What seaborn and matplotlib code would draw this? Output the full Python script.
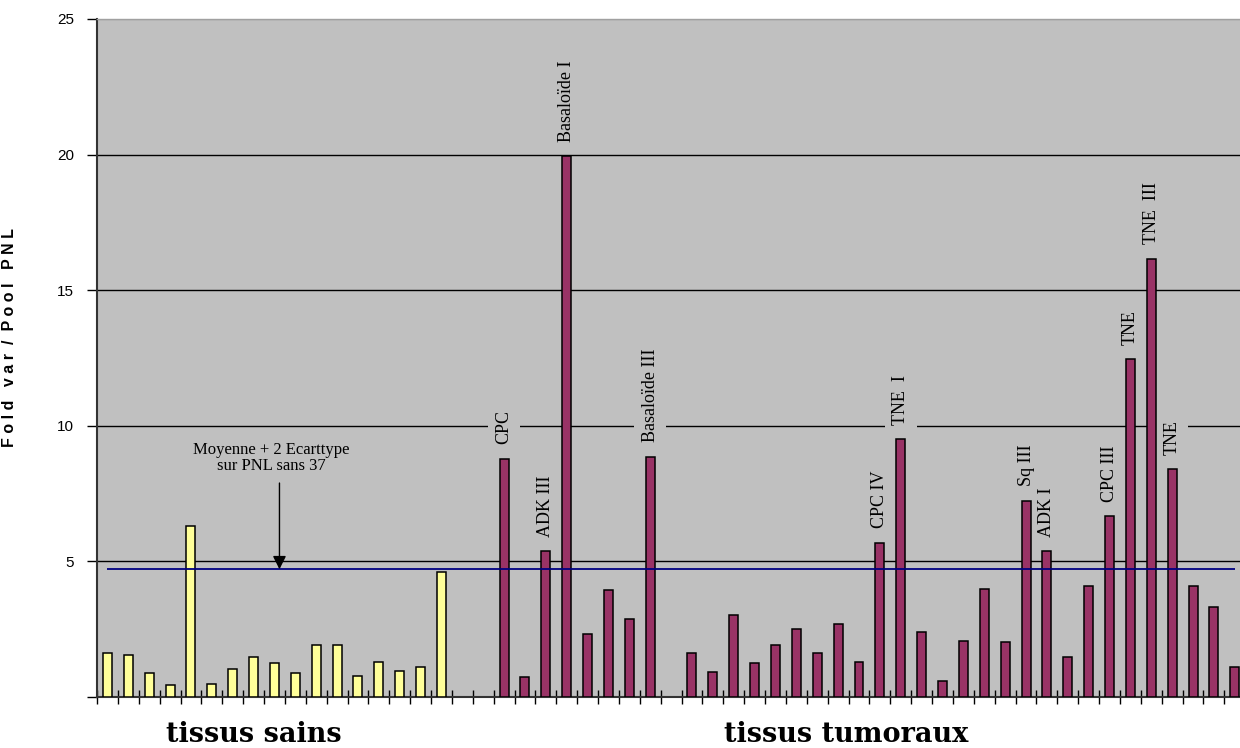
import numpy as np
import pandas as pd
import matplotlib
matplotlib.use("Agg")
import matplotlib.pyplot as plt
import seaborn as sns

# ---------------- data ----------------
tissus_sains = [1.61, 1.56, 0.88, 0.43, 6.32, 0.48, 1.04, 1.46, 1.25, 0.88,
                1.92, 1.92, 0.79, 1.30, 0.95, 1.10, 4.61]

tissus_tumoraux = [None, None, 8.79, 0.74, 5.38, 19.93, 2.34, 3.95, 2.86, 8.85,
                   None, 1.61, 0.93, 3.01, 1.25, 1.92, 2.49, 1.61, 2.70, 1.30,
                   5.69, 9.51, 2.38, 0.58, 2.08, 3.99, 2.03, 7.24, 5.38, 1.46,
                   4.09, 6.67, 12.46, 16.15, 8.39, 4.09, 3.32, 1.10]

etiquettes_tumeurs = ["", "", "CPC", "", "ADK III", "Basaloïde I", "", "", "", "Basaloïde III",
                      "", "", "", "", "", "", "", "", "", "",
                      "CPC IV", "TNE  I", "", "", "", "", "", "Sq III", "ADK I", "",
                      "", "CPC III", "TNE", "TNE  III", "TNE", "", "", ""]

seuil = 4.71  # Moyenne + 2 Ecarttype sur PNL sans 37
groupes = ["tissus sains", "tissus tumoraux"]
yticks_vals = [0, 5, 10, 15, 20, 25]
yticks_labels = ["", "5", "10", "15", "20", "25"]
ylabel_text = "F o l d   v a r  /  P o o l   P N L"
annotation_text = "Moyenne + 2 Ecarttype\nsur PNL sans 37"

# ---------------- frame ----------------
noms_sains = [f"S{i+1}" for i in range(len(tissus_sains))]
noms_tum = [f"T{i+1}" for i in range(len(tissus_tumoraux))]
ordre = noms_sains + noms_tum

rows = []
for n, v in zip(noms_sains, tissus_sains):
    rows.append((n, v, groupes[0]))
for n, v in zip(noms_tum, tissus_tumoraux):
    if v is not None:
        rows.append((n, v, groupes[1]))
df = pd.DataFrame(rows, columns=["echantillon", "valeur", "tissu"])

# ---------------- figure ----------------
sns.set_style("white")
plt.rcParams["font.family"] = ["Liberation Sans", "DejaVu Sans"]
for k in ["text.color", "axes.labelcolor", "xtick.color", "ytick.color"]:
    plt.rcParams[k] = "black"

W, H = 1240, 748
fig = plt.figure(figsize=(W / 100, H / 100), dpi=100)
ax = fig.add_axes([97 / W, (H - 697) / H, (W - 97) / W, (697 - 19) / H])
ax.set_facecolor("#C0C0C0")

sns.barplot(data=df, x="echantillon", y="valeur", hue="tissu", order=ordre,
            hue_order=groupes, palette={groupes[0]: "#FFFF99", groupes[1]: "#993366"},
            saturation=1, dodge=False, width=0.43, edgecolor="black", linewidth=1.1,
            legend=False, ax=ax, zorder=3)
for p in ax.patches:
    p.set_zorder(3)

ax.set_xlim(-0.5, 54.25)
ax.set_ylim(0, 25)

# y axis
ax.set_yticks(yticks_vals)
ax.set_yticklabels(yticks_labels, fontsize=11, family="Liberation Sans")
ax.tick_params(axis="y", left=True, direction="out", length=7.5, width=1.0,
               color="black", pad=9)
ax.set_axisbelow(True)
ax.yaxis.grid(True, color="black", linewidth=1.0)
gl = ax.get_ygridlines()
gl[-1].set_color("#A0A0A0")

# x axis: ticks at category boundaries
ax.set_xticks(np.arange(-0.5, len(ordre) - 1, 1.0))
ax.set_xticklabels([])
ax.tick_params(axis="x", bottom=True, direction="inout", length=10, width=1.0,
               color="black")
ax.set_xlabel("")

ax.spines["right"].set_visible(False)
ax.spines["top"].set_color("#A0A0A0")
ax.spines["top"].set_linewidth(1.0)
ax.spines["left"].set_color("#333333")
ax.spines["left"].set_linewidth(1.5)
ax.spines["bottom"].set_color("#333333")
ax.spines["bottom"].set_linewidth(1.5)

ax.set_ylabel(ylabel_text, fontsize=11.5, fontweight="bold", family="Liberation Sans")
ax.yaxis.set_label_coords(-0.07, 0.53)

# threshold line
ax.hlines(seuil, 0, len(ordre) - 1, color="#000080", linewidth=1.3, zorder=5)

# arrow + annotation
ax.annotate("", xy=(8.24, seuil), xytext=(8.24, 7.89),
            arrowprops=dict(arrowstyle="-|>", color="black", lw=1.0,
                            mutation_scale=20, shrinkA=0, shrinkB=0), zorder=6)
ax.text(7.86, 9.42, annotation_text, ha="center", va="top", fontsize=12,
        family="Liberation Serif", linespacing=1.05, zorder=6)

# bar labels
for n, v, lab in zip(noms_tum, tissus_tumoraux, etiquettes_tumeurs):
    if lab and v is not None:
        xpos = ordre.index(n)
        ax.annotate(lab, xy=(xpos, v), xytext=(0, 10.5), textcoords="offset points",
                    rotation=90, ha="center", va="bottom", fontsize=13,
                    family="Liberation Serif", zorder=2,
                    bbox=dict(facecolor="#C0C0C0", edgecolor="none", pad=5.5))

# group labels
for txt, xp in [(groupes[0], 7.0), (groupes[1], 35.4)]:
    ax.annotate(txt, xy=(xp, 0), xycoords=ax.get_xaxis_transform(),
                xytext=(0, -32.5), textcoords="offset points",
                ha="center", va="baseline", fontsize=19.5, fontweight="bold",
                family="DejaVu Serif", annotation_clip=False)

fig.savefig("out.png", dpi=100)
